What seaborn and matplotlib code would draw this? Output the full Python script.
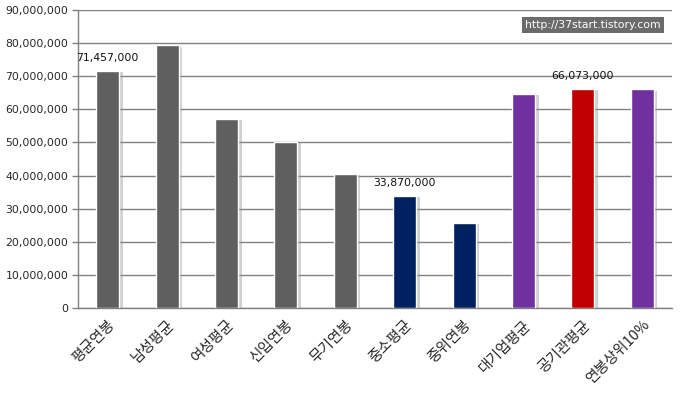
import matplotlib
matplotlib.use("Agg")
import matplotlib.pyplot as plt
import matplotlib.patheffects as pe
from matplotlib.ticker import FuncFormatter, FixedLocator
import pandas as pd
import seaborn as sns

# ── data ──────────────────────────────────────────────────────────────────────
categories = ["평균연봉", "남성평균", "여성평균", "신입연봉", "무기연봉",
              "중소평균", "중위연봉", "대기업평균", "공기관평균", "연봉상위10%"]
salaries = [71457000, 79200000, 57000000, 50100000, 40600000,
            33870000, 25700000, 64700000, 66073000, 66000000]
bar_colors = ["#5f5f5f", "#5f5f5f", "#5f5f5f", "#5f5f5f", "#5f5f5f",
              "#002060", "#002060", "#7030a0", "#c00000", "#7030a0"]
labelled = ["평균연봉", "중소평균", "공기관평균"]
watermark = "http://37start.tistory.com"

df = pd.DataFrame({"category": categories, "salary": salaries})

sns.set_style("white")
plt.rcParams["font.family"] = ["Noto Sans CJK KR", "DejaVu Sans"]

fig = plt.figure(figsize=(6.8, 3.97), dpi=100)
ax = fig.add_axes([0.1147, 0.2234, 0.8735, 0.7526])

sns.barplot(data=df, x="category", y="salary", hue="category",
            palette=bar_colors, legend=False, width=0.39, saturation=1,
            ax=ax, zorder=3)

for bar in ax.patches:
    bar.set_path_effects([
        pe.SimplePatchShadow(offset=(2.5, -1), shadow_rgbFace="#9a9a9a", alpha=0.45),
        pe.Normal(),
    ])

# data labels
for i, (cat, val) in enumerate(zip(categories, salaries)):
    if cat in labelled:
        ax.annotate(f"{val:,}", (i, val), xytext=(0, 6), textcoords="offset points",
                    ha="center", va="bottom", fontsize=7.8, family="DejaVu Sans",
                    color="#111111")

ax.set_ylim(0, 90000000)
ax.set_xlim(-0.5, len(categories) - 0.5)
ax.yaxis.set_major_locator(FixedLocator(range(0, 90000001, 10000000)))
ax.yaxis.set_major_formatter(FuncFormatter(lambda v, _: f"{int(v):,}"))
ax.grid(axis="y", color="#808080", linewidth=1, zorder=0)
ax.set_axisbelow(True)

# category separators as ticks (Excel style)
ax.set_xticks(range(len(categories)))
ax.set_xticklabels(categories, rotation=45, ha="right", rotation_mode="anchor",
                   fontsize=10.5)
ax.tick_params(axis="x", which="major", length=0, pad=7)
ax.set_xticks([i - 0.5 for i in range(len(categories) + 1)], minor=True)
ax.tick_params(axis="x", which="minor", length=4, color="#808080", width=1,
               direction="out")
ax.tick_params(axis="y", length=4, color="#808080", width=1, direction="out",
               labelsize=7.8, pad=3, left=True)
for lab in ax.get_yticklabels():
    lab.set_family("DejaVu Sans")

ax.set_xlabel("")
ax.set_ylabel("")
for side in ["top", "right"]:
    ax.spines[side].set_visible(False)
for side in ["left", "bottom"]:
    ax.spines[side].set_color("#808080")
    ax.spines[side].set_linewidth(1)

ax.text(0.867, 0.948, watermark, transform=ax.transAxes, ha="center", va="center",
        fontsize=7.8, color="white", family="DejaVu Sans",
        bbox=dict(boxstyle="square,pad=0.3", facecolor="#6b6b6b", edgecolor="none"))

fig.savefig("out.png", dpi=100)
